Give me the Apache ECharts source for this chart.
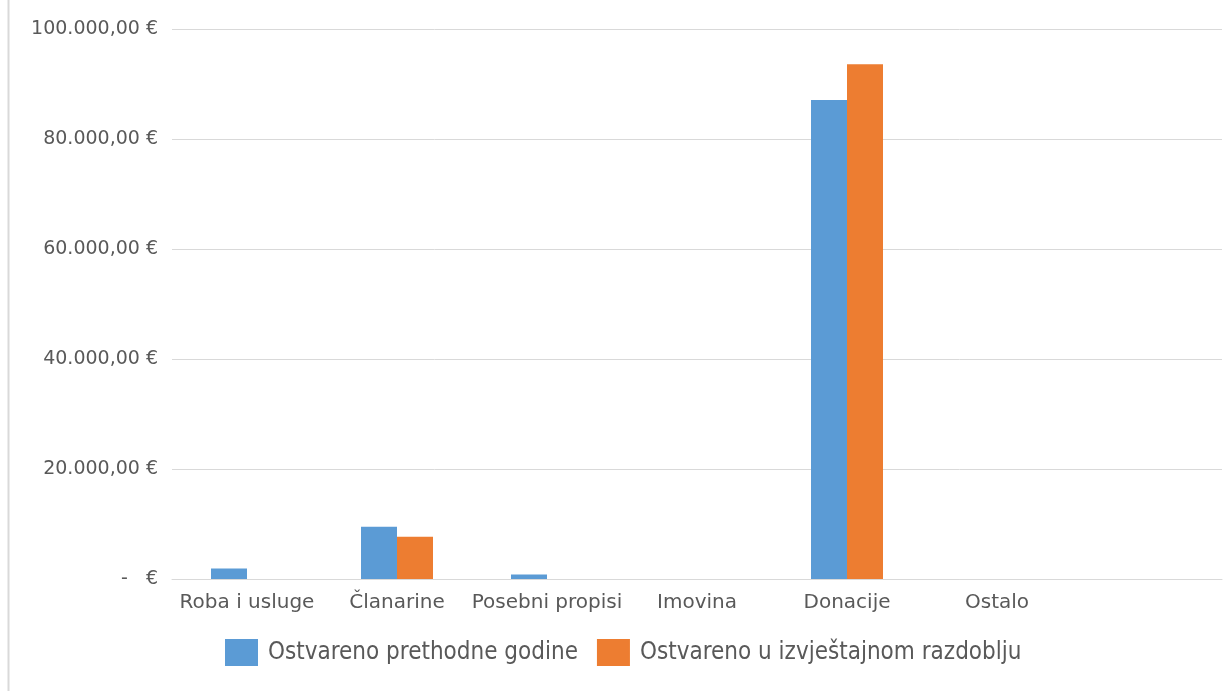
<!DOCTYPE html>
<html>
<head>
<meta charset="utf-8">
<script src="https://cdn.jsdelivr.net/npm/echarts@6/dist/echarts.min.js"></script>
<style>
html,body{margin:0;padding:0;background:#fff;}
#main{width:1229px;height:691px;}
</style>
</head>
<body>
<div id="main"></div>
<script>
const categories = ['Roba i usluge', 'Članarine', 'Posebni propisi', 'Imovina', 'Donacije', 'Ostalo', ''];
const seriesNames = ['Ostvareno prethodne godine', 'Ostvareno u izvještajnom razdoblju'];
const prevYear = [1900, 9500, 800, 0, 87100, 0, null];
const currentPeriod = [0, 7700, 0, 0, 93600, 0, null];
const yTicks = [0, 20000, 40000, 60000, 80000, 100000];

function fmt(v) {
  if (v === 0) return '-   €';
  const s = Math.round(v).toString().replace(/\B(?=(\d{3})+(?!\d))/g, '.');
  return s + ',00 €';
}

const chart = echarts.init(document.getElementById('main'));
const font = '"DejaVu Sans", sans-serif';
chart.setOption({
  animation: false,
  backgroundColor: '#fff',
  textStyle: { fontFamily: font },
  grid: { left: 172, right: 7, top: 29, bottom: 112, containLabel: false },
  legend: {
    top: 634,
    left: 220,
    itemWidth: 33,
    itemHeight: 27,
    itemGap: 19,
    icon: 'rect',
    textStyle: { color: '#595959', fontSize: 24, padding: [0, 0, 0, 5], fontFamily: '"DejaVu Sans Condensed", "DejaVu Sans", sans-serif' },
    data: seriesNames
  },
  xAxis: {
    type: 'category',
    data: categories,
    axisLine: { lineStyle: { color: '#D9D9D9', width: 1 } },
    axisTick: { show: false },
    axisLabel: { color: '#595959', fontSize: 20, margin: 14, interval: 0 }
  },
  yAxis: {
    type: 'value',
    min: 0,
    max: 100000,
    interval: 20000,
    axisLine: { show: false },
    axisTick: { show: false },
    splitLine: { lineStyle: { color: '#D9D9D9', width: 1 } },
    axisLabel: { color: '#595959', fontSize: 19, margin: 14, formatter: fmt }
  },
  series: [
    { name: seriesNames[0], type: 'bar', data: prevYear, barWidth: 36, barGap: '0%', itemStyle: { color: '#5B9BD5' } },
    { name: seriesNames[1], type: 'bar', data: currentPeriod, barWidth: 36, barGap: '0%', itemStyle: { color: '#ED7D31' } }
  ],
  graphic: [
    { type: 'line', shape: { x1: 8.5, y1: 0, x2: 8.5, y2: 691 }, style: { stroke: '#D9D9D9', lineWidth: 2 } }
  ]
});
</script>
</body>
</html>
